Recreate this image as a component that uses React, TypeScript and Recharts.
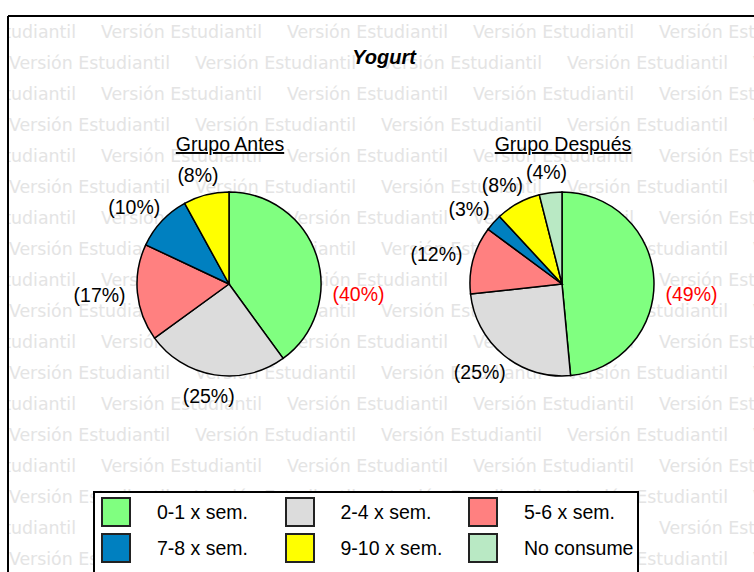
import { PieChart, Pie, Cell, Legend } from 'recharts';

const CATEGORIES = ['0-1 x sem.', '2-4 x sem.', '5-6 x sem.', '7-8 x sem.', '9-10 x sem.', 'No consume'];
const COLORS = ['#80ff80', '#dcdcdc', '#ff8080', '#0080c0', '#ffff00', '#b9e9c4'];
const ANTES = [40, 25, 17, 10, 8, 0];
const DESPUES = [49, 25, 12, 3, 8, 4];
const GROUPS = ['Grupo Antes', 'Grupo Después'];
const TITLE = 'Yogurt';
const WATERMARK = 'Versión Estudiantil';

const W = 754;
const H = 572;
const FONT = "'Liberation Sans', Arial, sans-serif";
const CENTERS = [{ cx: 229, cy: 284 }, { cx: 562, cy: 284 }];
const R = 92;
const RAD = Math.PI / 180;

const toData = (values: number[]) =>
  CATEGORIES.map((name, i) => ({ name, value: values[i], color: COLORS[i] })).filter((d) => d.value > 0);

// outside-end labels, the biggest slice gets a red label just under 3 o'clock
const renderLabel = (props: any) => {
  const { cx, cy, midAngle, outerRadius, value, index } = props;
  const hot = index === 0;
  const angle = hot ? -5 : midAngle;
  const dx = Math.cos(angle * RAD);
  const dy = -Math.sin(angle * RAD);
  const text = `(${value}%)`;
  const w = text.length * 10.4;
  const h = 18;
  const d = outerRadius + 12;
  return (
    <text
      x={cx + d * dx + (dx * w) / 2}
      y={cy + d * dy + (dy * h) / 2}
      textAnchor="middle"
      dominantBaseline="central"
      fill={hot ? '#ff0000' : '#000'}
      fontSize={19.5}
      fontFamily={FONT}
    >
      {text}
    </text>
  );
};

const LegendBox = () => (
  <div
    style={{
      border: '2px solid #000',
      background: '#fff',
      boxSizing: 'border-box',
      width: 546,
      height: 95,
      display: 'grid',
      gridTemplateColumns: 'repeat(3, 183.5px)',
      gridAutoRows: '36px',
      padding: '4px 0 0 6px',
      fontFamily: FONT,
      fontSize: 19.5,
      color: '#000',
    }}
  >
    {CATEGORIES.map((c, i) => (
      <div key={c} style={{ display: 'flex', alignItems: 'center', height: 30 }}>
        <span
          style={{
            width: 30,
            height: 30,
            boxSizing: 'border-box',
            border: '2px solid #222',
            background: COLORS[i],
            marginRight: 26,
            flex: 'none',
          }}
        />
        <span style={{ whiteSpace: 'nowrap' }}>{c}</span>
      </div>
    ))}
  </div>
);

const Watermark = () => {
  const items = [];
  for (let row = 0; row < 19; row++) {
    const y = 38 + row * 31;
    for (let x = row % 2 === 0 ? -85 : 9; x < W; x += 186) {
      items.push(
        <text key={`${row}-${x}`} x={x} y={y} textLength={161} lengthAdjust="spacingAndGlyphs">
          {WATERMARK}
        </text>
      );
    }
  }
  return (
    <g clipPath="url(#frameClip)" fill="#e4e4e4" fontSize={17} fontFamily="'DejaVu Sans Condensed', 'DejaVu Sans', sans-serif">
      {items}
    </g>
  );
};

export default function App() {
  const pies = [toData(ANTES), toData(DESPUES)];
  return (
    <div style={{ position: 'absolute', left: 0, top: 0, width: W, height: H, overflow: 'hidden', background: '#fff' }}>
      <svg width={W} height={H} style={{ position: 'absolute', left: 0, top: 0 }}>
        <defs>
          <clipPath id="frameClip">
            <rect x={9} y={17} width={W - 9} height={H - 17} />
          </clipPath>
        </defs>
        <Watermark />
        <line x1={8} y1={16} x2={W} y2={16} stroke="#000" strokeWidth={2} />
        <line x1={8} y1={16} x2={8} y2={H} stroke="#000" strokeWidth={2} />
        <text x={384} y={64} textAnchor="middle" fontSize={20} fontWeight="bold" fontStyle="italic" fontFamily={FONT}>
          {TITLE}
        </text>
        {GROUPS.map((g, i) => (
          <text
            key={g}
            x={CENTERS[i].cx + 1}
            y={151}
            textAnchor="middle"
            fontSize={19.5}
            fontFamily={FONT}
            textDecoration="underline"
          >
            {g}
          </text>
        ))}
      </svg>
      <div style={{ position: 'absolute', left: 0, top: 0 }}>
        <PieChart width={W} height={H} margin={{ top: 0, right: 0, bottom: 0, left: 0 }}>
          {pies.map((data, i) => (
            <Pie
              key={GROUPS[i]}
              data={data}
              dataKey="value"
              nameKey="name"
              cx={CENTERS[i].cx}
              cy={CENTERS[i].cy}
              outerRadius={R}
              startAngle={90}
              endAngle={-270}
              stroke="#000"
              strokeWidth={1.5}
              label={renderLabel}
              labelLine={false}
              isAnimationActive={false}
            >
              {data.map((d) => (
                <Cell key={d.name} fill={d.color} />
              ))}
            </Pie>
          ))}
          <Legend content={<LegendBox />} wrapperStyle={{ left: 93, top: 491, width: 546, bottom: 'auto' }} />
        </PieChart>
      </div>
    </div>
  );
}
